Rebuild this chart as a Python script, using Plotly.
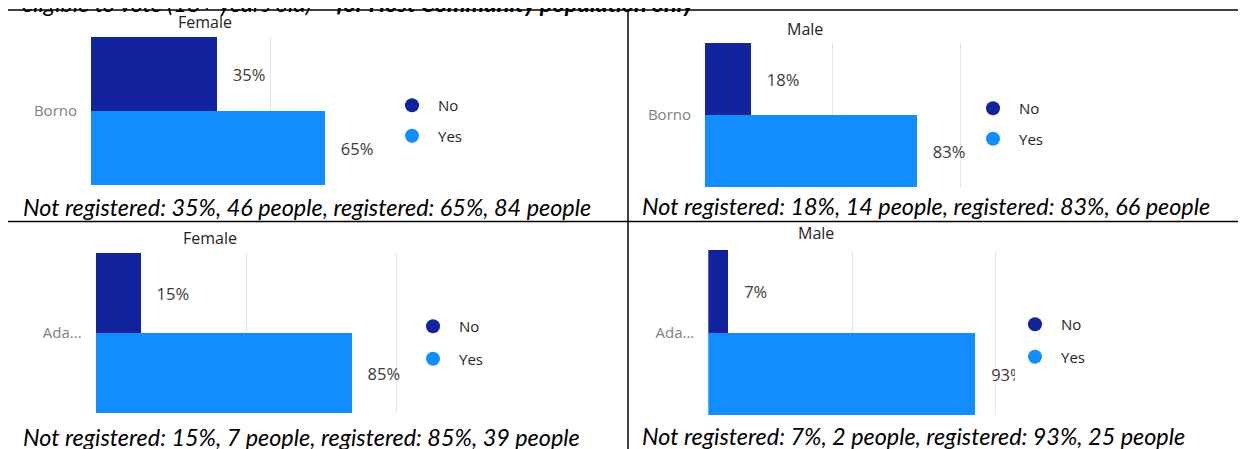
import plotly.graph_objects as go

W, H = 1246, 449

# ---------------- data ----------------
regions = ["Borno", "Borno", "Adamawa", "Adamawa"]
region_ticks = ["Borno", "Borno", "Ada...", "Ada..."]
genders = ["Female", "Male", "Female", "Male"]
no_pct = [35, 18, 15, 7]
yes_pct = [65, 83, 85, 93]
no_people = [46, 14, 7, 2]
yes_people = [84, 66, 39, 25]
answers = ["No", "Yes"]
heading_plain = "eligible to vote (18+ years old) – "
heading_bold = "for Host Community population only"

# ---------------- styles / geometry ----------------
NO_COLOR = "#12239E"
YES_COLOR = "#118DFF"
LABEL_FONT = "Open Sans"
DOC_FONT = "Lato"
PAGE_OFFSET = 8  # default body margin of the html page

# plot-area pixel boxes: left, right, top, bottom, x-range max (%)
boxes = [
    (91.0, 385.0, 37.0, 185.0, 81.7),
    (705.0, 975.0, 43.0, 187.0, 105.5),
    (95.7, 405.0, 253.0, 413.0, 102.8),
    (708.3, 1015.0, 250.0, 415.0, 106.7),
]
title_pos = [(205, 22), (805, 29), (210, 238), (816, 233)]
legend_pos = [(386, 89, 8), (967, 92, 8), (407, 310, 10), (1009, 308, 10)]
caption_pos = [(21, 207), (640, 206), (21, 437), (640, 436)]


def px(x):
    return (x - PAGE_OFFSET) / W


def py(y):
    return 1 - (y - PAGE_OFFSET) / H


fig = go.Figure()
layout_extra = {}

for i in range(4):
    n = i + 1
    xa = "x" if n == 1 else f"x{n}"
    ya = "y" if n == 1 else f"y{n}"
    xkey = "xaxis" if n == 1 else f"xaxis{n}"
    ykey = "yaxis" if n == 1 else f"yaxis{n}"
    lkey = "legend" if n == 1 else f"legend{n}"
    left, right, top, bottom, xmax = boxes[i]

    for ans, vals, col in ((answers[0], no_pct, NO_COLOR), (answers[1], yes_pct, YES_COLOR)):
        fig.add_trace(go.Bar(
            x=[vals[i]], y=[regions[i]], orientation="h", name=ans,
            marker=dict(color=col, line=dict(width=0)),
            text=[f"{vals[i]}%"], texttemplate="\u00a0\u00a0\u00a0%{text}",
            textposition="outside", cliponaxis=True, constraintext="none",
            textfont=dict(family=LABEL_FONT, size=16.5, color="#3b3a39"),
            xaxis=xa, yaxis=ya, showlegend=False, hoverinfo="skip",
        ))
        fig.add_trace(go.Scatter(
            x=[None], y=[None], mode="markers", name=ans,
            marker=dict(color=col, size=14, symbol="circle"),
            xaxis=xa, yaxis=ya, legend=lkey, legendgroup=f"{ans}{n}",
            showlegend=True,
        ))

    layout_extra[xkey] = dict(
        domain=[px(left), px(right)], range=[0, xmax], anchor=ya,
        showticklabels=False, ticks="", showline=False, zeroline=False,
        showgrid=True, gridcolor="#e6e6e6", gridwidth=1, dtick=50, tick0=0,
        fixedrange=True,
    )
    layout_extra[ykey] = dict(
        domain=[py(bottom), py(top)], anchor=xa, type="category",
        autorange="reversed", tickvals=[regions[i]], ticktext=[region_ticks[i]],
        ticks="", showline=False, showgrid=False, zeroline=False,
        tickfont=dict(family=LABEL_FONT, size=15, color="#7f7f7f"),
        ticklabelstandoff=13, fixedrange=True,
    )
    lx, ly, gap = legend_pos[i]
    layout_extra[lkey] = dict(
        x=px(lx), y=py(ly), xanchor="left", yanchor="top",
        bgcolor="rgba(0,0,0,0)", borderwidth=0, itemwidth=42,
        traceorder="grouped", tracegroupgap=gap,
        font=dict(family=LABEL_FONT, size=15, color="#252423"),
    )

annotations = []
for i in range(4):
    tx, ty = title_pos[i]
    annotations.append(dict(
        x=px(tx), y=py(ty), xref="paper", yref="paper", text=genders[i],
        showarrow=False, xanchor="center", yanchor="middle",
        font=dict(family=LABEL_FONT, size=16, color="#252423"),
    ))
    cx, cy = caption_pos[i]
    annotations.append(dict(
        x=px(cx), y=py(cy), xref="paper", yref="paper",
        text=(f"Not registered: {no_pct[i]}%, {no_people[i]} people, "
              f"registered: {yes_pct[i]}%, {yes_people[i]} people"),
        showarrow=False, xanchor="left", yanchor="middle",
        font=dict(family=DOC_FONT, size=23.4, color="#000000", style="italic"),
    ))

annotations.append(dict(
    x=px(20), y=py(3), xref="paper", yref="paper",
    text=f"<i>{heading_plain}<b>{heading_bold}</b></i>",
    showarrow=False, xanchor="left", yanchor="middle",
    font=dict(family=DOC_FONT, size=23.4, color="#000000"),
))

line = dict(color="#000000", width=1.5)
shapes = [
    dict(type="line", xref="paper", yref="paper", x0=px(8), x1=1, y0=py(10), y1=py(10), line=line),
    dict(type="line", xref="paper", yref="paper", x0=px(8), x1=1, y0=py(221.5), y1=py(221.5), line=line),
    dict(type="line", xref="paper", yref="paper", x0=px(628), x1=px(628), y0=py(10), y1=0, line=line),
]

fig.update_layout(
    width=W, height=H, margin=dict(l=0, r=0, t=0, b=0),
    paper_bgcolor="white", plot_bgcolor="white",
    barmode="group", bargap=0, bargroupgap=0,
    annotations=annotations, shapes=shapes,
    **layout_extra,
)

fig.write_html("out.html")
